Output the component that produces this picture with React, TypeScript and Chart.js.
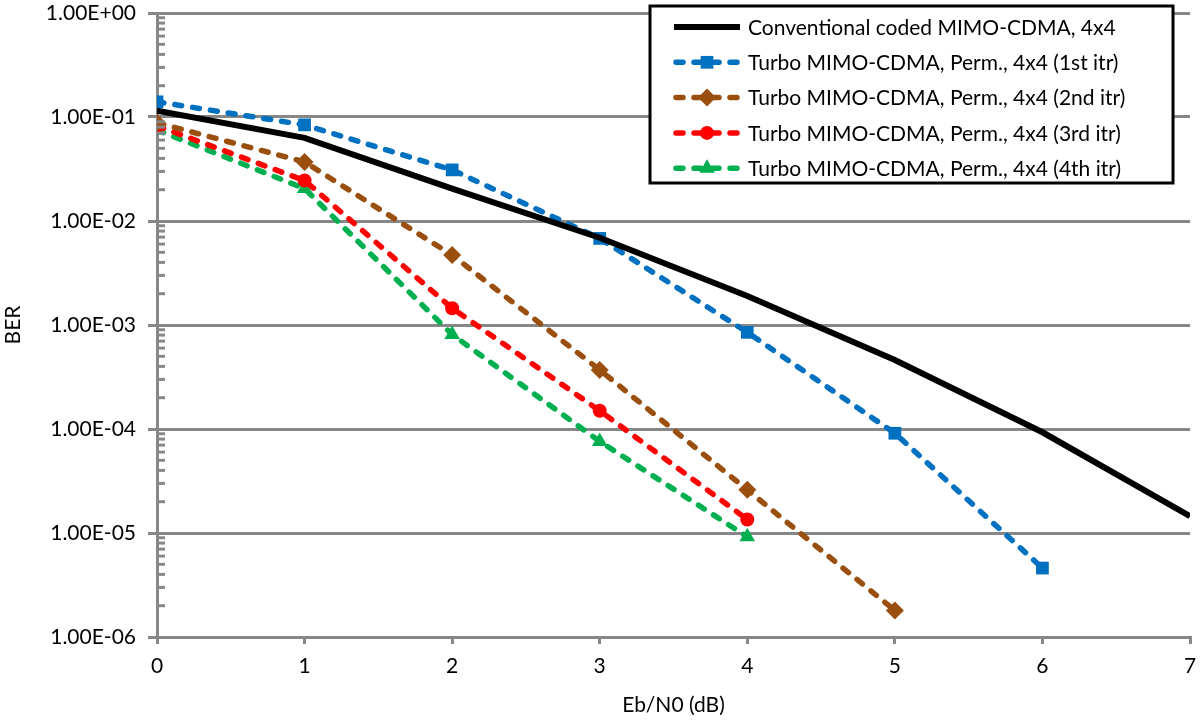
import React, { useEffect, useRef } from 'react';
import { Chart, registerables } from 'chart.js';

Chart.register(...registerables);

const ebN0 = [0, 1, 2, 3, 4, 5, 6, 7];
const conventional = [0.115, 0.063, 0.0205, 0.0069, 0.0019, 4.6e-4, 9.3e-5, 1.45e-5];
const turbo1 = [0.14, 0.084, 0.031, 0.0068, 8.5e-4, 9.1e-5, 4.6e-6];
const turbo2 = [0.088, 0.037, 0.0047, 3.7e-4, 2.6e-5, 1.8e-6];
const turbo3 = [0.082, 0.0245, 0.00145, 1.5e-4, 1.35e-5];
const turbo4 = [0.075, 0.0205, 8.1e-4, 7.6e-5, 9.2e-6];
const seriesLabels = [
  'Conventional coded MIMO-CDMA, 4x4',
  'Turbo MIMO-CDMA, Perm., 4x4 (1st itr)',
  'Turbo MIMO-CDMA, Perm., 4x4 (2nd itr)',
  'Turbo MIMO-CDMA, Perm., 4x4 (3rd itr)',
  'Turbo MIMO-CDMA, Perm., 4x4 (4th itr)',
];
const yTickValues = [1e-6, 1e-5, 1e-4, 1e-3, 1e-2, 1e-1, 1];
const xTickValues = [0, 1, 2, 3, 4, 5, 6, 7];
const xTitle = 'Eb/N0 (dB)';
const yTitle = 'BER';

const FONT = 'Lato';
const FS = 21;
const GRAY = '#878787';

const toPoints = (ys: number[]) => ys.map((y, i) => ({ x: ebN0[i], y }));

const formatSci = (v: number) => {
  const e = Math.round(Math.log10(v));
  const a = Math.abs(e);
  return '1.00E' + (e < 0 ? '-' : '+') + (a < 10 ? '0' : '') + a;
};

function drawMarker(ctx: CanvasRenderingContext2D, style: string, x: number, y: number, r: number, color: string) {
  ctx.save();
  ctx.fillStyle = color;
  ctx.beginPath();
  if (style === 'rect') {
    const s = r * Math.SQRT1_2;
    ctx.rect(x - s, y - s, 2 * s, 2 * s);
  } else if (style === 'rectRot') {
    ctx.moveTo(x, y - r);
    ctx.lineTo(x + r, y);
    ctx.lineTo(x, y + r);
    ctx.lineTo(x - r, y);
    ctx.closePath();
  } else if (style === 'circle') {
    ctx.arc(x, y, r, 0, Math.PI * 2);
  } else if (style === 'triangle') {
    for (let k = 0; k < 3; k++) {
      const a = (k * 2 * Math.PI) / 3;
      const px = x + Math.sin(a) * r;
      const py = y - Math.cos(a) * r;
      if (k === 0) ctx.moveTo(px, py);
      else ctx.lineTo(px, py);
    }
    ctx.closePath();
  }
  ctx.fill();
  ctx.restore();
}

const minorTickPlugin = {
  id: 'minorTicks',
  afterDraw(chart: any) {
    const ys = chart.scales.y;
    const ctx = chart.ctx;
    const left = chart.chartArea.left;
    ctx.save();
    ctx.strokeStyle = GRAY;
    ctx.lineWidth = 3;
    for (let i = 0; i < yTickValues.length - 1; i++) {
      for (let k = 2; k <= 9; k++) {
        const yp = ys.getPixelForValue(yTickValues[i] * k);
        ctx.beginPath();
        ctx.moveTo(left, yp);
        ctx.lineTo(left + 8, yp);
        ctx.stroke();
      }
    }
    ctx.restore();
  },
};

const boxLegendPlugin = {
  id: 'boxLegend',
  afterDraw(chart: any) {
    const ctx = chart.ctx as CanvasRenderingContext2D;
    const x0 = 650, y0 = 6, w = 523, h = 177;
    ctx.save();
    ctx.fillStyle = '#ffffff';
    ctx.fillRect(x0, y0, w, h);
    ctx.lineWidth = 3;
    ctx.strokeStyle = '#000000';
    ctx.strokeRect(x0, y0, w, h);
    chart.data.datasets.forEach((ds: any, i: number) => {
      const cy = 27 + i * 35.3;
      ctx.beginPath();
      ctx.setLineDash(ds.borderDash || []);
      ctx.lineCap = ds.borderCapStyle || 'butt';
      ctx.strokeStyle = ds.borderColor;
      ctx.lineWidth = ds.borderWidth;
      ctx.moveTo(ds.borderDash ? 676 : 674, cy);
      ctx.lineTo(ds.borderDash ? 737 : 740, cy);
      ctx.stroke();
      ctx.setLineDash([]);
      if (ds.pointRadius > 0) drawMarker(ctx, ds.pointStyle, 707, cy, ds.pointRadius, ds.pointBackgroundColor);
      ctx.fillStyle = '#000000';
      ctx.font = `${FS}px ${FONT}`;
      ctx.textBaseline = 'middle';
      ctx.textAlign = 'left';
      ctx.fillText(ds.label, 748, cy + 1);
    });
    ctx.restore();
  },
};

export default function App() {
  const ref = useRef<HTMLCanvasElement | null>(null);

  useEffect(() => {
    document.body.style.margin = '0';
    const canvas = ref.current;
    if (!canvas) return;
    const dashed = (color: string, style: string, radius: number, label: string, data: number[]) => ({
      label,
      data: toPoints(data),
      borderColor: color,
      backgroundColor: color,
      pointBackgroundColor: color,
      pointBorderColor: color,
      pointBorderWidth: 0,
      borderWidth: 5.5,
      borderDash: [7, 11],
      borderCapStyle: 'round',
      pointStyle: style,
      pointRadius: radius,
      tension: 0,
    });
    const chart = new Chart(canvas, {
      type: 'line',
      data: {
        datasets: [
          {
            label: seriesLabels[0],
            data: toPoints(conventional),
            borderColor: '#000000',
            backgroundColor: '#000000',
            pointBackgroundColor: '#000000',
            borderWidth: 6,
            pointRadius: 0,
            tension: 0,
          } as any,
          dashed('#0070C0', 'rect', 9, seriesLabels[1], turbo1),
          dashed('#9A4F0E', 'rectRot', 9, seriesLabels[2], turbo2),
          dashed('#FF0000', 'circle', 7, seriesLabels[3], turbo3),
          dashed('#00B050', 'triangle', 9, seriesLabels[4], turbo4),
        ].reverse(),
      },
      options: {
        animation: false,
        responsive: false,
        layout: { padding: { top: 13, right: 10, left: 0, bottom: 0 } },
        plugins: {
          legend: { display: false },
          tooltip: { enabled: false },
        },
        scales: {
          x: {
            type: 'linear',
            min: 0,
            max: 7,
            afterBuildTicks: (s: any) => {
              s.ticks = xTickValues.map((v) => ({ value: v }));
            },
            afterFit: (s: any) => {
              s.height = 84;
              s.paddingLeft = 0;
              s.paddingRight = 0;
            },
            grid: {
              drawOnChartArea: false,
              drawTicks: true,
              tickLength: 7,
              tickColor: GRAY,
              lineWidth: 3,
            },
            border: { display: true, color: GRAY, width: 3 },
            ticks: {
              color: '#000',
              font: { family: FONT, size: FS },
              padding: 10,
              maxRotation: 0,
              autoSkip: false,
            },
            title: {
              display: true,
              text: xTitle,
              color: '#000',
              font: { family: FONT, size: FS },
              padding: { top: 0, bottom: 3 },
            },
          },
          y: {
            type: 'logarithmic',
            min: 1e-6,
            max: 1,
            afterBuildTicks: (s: any) => {
              s.ticks = yTickValues.map((v) => ({ value: v, major: true }));
            },
            afterFit: (s: any) => {
              s.width = 157;
              s.paddingTop = 0;
              s.paddingBottom = 0;
            },
            grid: {
              color: GRAY,
              lineWidth: 3,
              drawTicks: true,
              tickLength: 9,
              tickColor: GRAY,
            },
            border: { display: true, color: GRAY, width: 3 },
            ticks: {
              color: '#000',
              font: { family: FONT, size: FS },
              padding: 12,
              autoSkip: false,
              callback: (v: any) => formatSci(Number(v)),
            },
            title: {
              display: true,
              text: yTitle,
              color: '#000',
              font: { family: FONT, size: FS },
              padding: { top: 1, bottom: 0 },
            },
          },
        },
      },
      plugins: [minorTickPlugin, boxLegendPlugin],
    } as any);
    // restore legend order (datasets reversed for draw order)
    chart.data.datasets.reverse();
    chart.update();
    return () => chart.destroy();
  }, []);

  return (
    <div style={{ width: 1200, height: 721, background: '#fff' }}>
      <canvas ref={ref} width={1200} height={721} />
    </div>
  );
}
